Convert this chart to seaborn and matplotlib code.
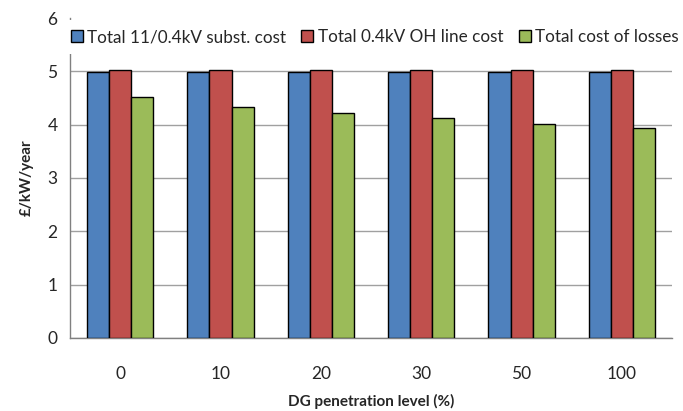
import numpy as np
import pandas as pd
import matplotlib
matplotlib.use("Agg")
import matplotlib.pyplot as plt
import seaborn as sns

sns.set_style("white")
plt.rcParams['font.family'] = ['Lato', 'DejaVu Sans']

levels = ["0", "10", "20", "30", "50", "100"]
subst_cost = [4.98, 4.98, 4.98, 4.98, 4.98, 4.98]
line_cost = [5.03, 5.03, 5.03, 5.03, 5.03, 5.03]
losses_cost = [4.51, 4.34, 4.21, 4.13, 4.02, 3.94]
series = ["Total 11/0.4kV subst. cost", "Total 0.4kV OH line cost", "Total cost of losses"]
colors = ["#4F81BD", "#C0504D", "#9BBB59"]

df = pd.DataFrame({
    "level": levels * 3,
    "value": subst_cost + line_cost + losses_cost,
    "series": [s for s in series for _ in levels],
})

fig = plt.figure(figsize=(6.83, 4.11), dpi=100)
ax = fig.add_axes([0.1025, 0.178, 0.8815, 0.778])

sns.barplot(data=df, x="level", y="value", hue="series", palette=colors,
            width=0.66, gap=0, edgecolor="black", linewidth=1.0,
            saturation=1, ax=ax, zorder=3)

ax.set_ylim(0, 6)
ax.set_xlim(-0.5, 5.5)
ax.set_yticks(range(0, 7))
ax.yaxis.grid(True, color="#A0A0A0", linewidth=1.0, zorder=0)
ax.set_axisbelow(True)
# no gridline along the top edge
ax.get_ygridlines()[-1].set_visible(False)

for side in ["top", "right"]:
    ax.spines[side].set_visible(False)
for side in ["left", "bottom"]:
    ax.spines[side].set_color("#808080")
    ax.spines[side].set_linewidth(1.0)

# group separators as x ticks
ax.set_xticks(np.arange(-0.5, 6, 1), minor=True)
ax.tick_params(axis="x", which="minor", length=5, color="#808080", direction="out")
ax.tick_params(axis="x", which="major", length=0, pad=20, labelsize=12.5)
ax.tick_params(axis="y", length=5, color="#808080", direction="out", labelsize=12.5, pad=4)

ax.set_xlabel("DG penetration level (%)", fontsize=11, fontweight="bold", labelpad=9)
ax.set_ylabel("£/kW/year", fontsize=11, fontweight="bold", labelpad=10)

leg = ax.legend(loc="upper center", bbox_to_anchor=(0.506, 0.995), ncol=3, frameon=True,
                fontsize=12.3, handlelength=0.7, handleheight=0.7, handletextpad=0.25,
                columnspacing=0.9, borderaxespad=0.0, borderpad=0.55)
leg.get_frame().set_facecolor("white")
leg.get_frame().set_edgecolor("none")
leg.get_frame().set_alpha(1)
leg.set_zorder(5)
for h in leg.legend_handles:
    h.set_edgecolor("black")
    h.set_linewidth(1.0)

fig.savefig("out.png", dpi=100)
